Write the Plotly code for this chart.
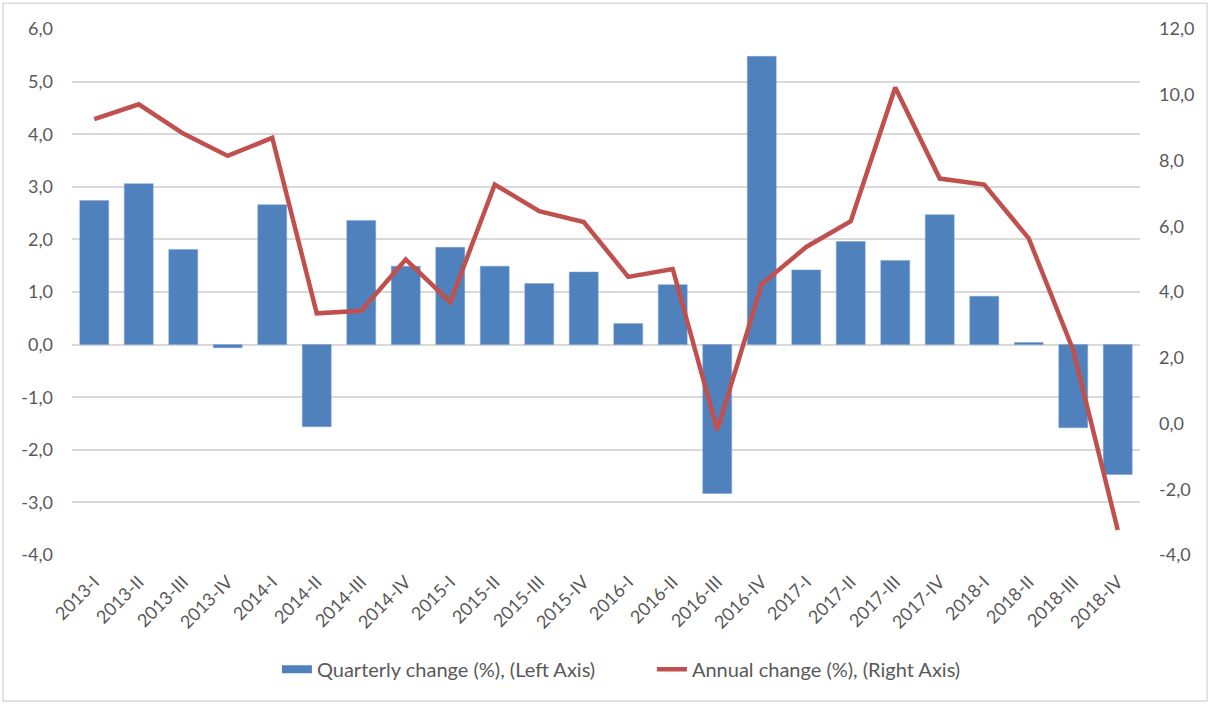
import plotly.graph_objects as go

categories = ["2013-I", "2013-II", "2013-III", "2013-IV",
              "2014-I", "2014-II", "2014-III", "2014-IV",
              "2015-I", "2015-II", "2015-III", "2015-IV",
              "2016-I", "2016-II", "2016-III", "2016-IV",
              "2017-I", "2017-II", "2017-III", "2017-IV",
              "2018-I", "2018-II", "2018-III", "2018-IV"]

quarterly_change = [2.74, 3.06, 1.81, -0.06,
                    2.66, -1.56, 2.36, 1.49,
                    1.85, 1.49, 1.16, 1.38,
                    0.40, 1.14, -2.83, 5.48,
                    1.42, 1.96, 1.60, 2.47,
                    0.92, 0.04, -1.58, -2.47]

annual_change = [9.26, 9.71, 8.82, 8.14,
                 8.69, 3.35, 3.43, 4.99,
                 3.69, 7.27, 6.46, 6.13,
                 4.46, 4.70, -0.20, 4.24,
                 5.37, 6.15, 10.22, 7.45,
                 7.27, 5.63, 2.23, -3.24]

left_ticks = [-4, -3, -2, -1, 0, 1, 2, 3, 4, 5, 6]
left_labels = ["-4,0", "-3,0", "-2,0", "-1,0", "0,0", "1,0", "2,0", "3,0", "4,0", "5,0", "6,0"]
right_ticks = [-4, -2, 0, 2, 4, 6, 8, 10, 12]
right_labels = ["-4,0", "-2,0", "0,0", "2,0", "4,0", "6,0", "8,0", "10,0", "12,0"]

bar_name = "Quarterly change (%), (Left Axis)"
line_name = "Annual change (%), (Right Axis)"

FONT = "Lato, 'Open Sans', sans-serif"
TXT = "#595959"
BLUE = "#4F81BD"
RED = "#C0504D"

fig = go.Figure()
fig.add_trace(go.Bar(
    x=categories, y=quarterly_change, name=bar_name, showlegend=False,
    marker=dict(color=BLUE, line=dict(color="#7BA0D4", width=0.5)),
    yaxis="y",
))
# legend swatch for the bars (wide rectangle like the original)
fig.add_trace(go.Scatter(
    x=[None], y=[None], name=bar_name, mode="lines",
    line=dict(color=BLUE, width=8), yaxis="y", showlegend=True,
))
fig.add_trace(go.Scatter(
    x=categories, y=annual_change, name=line_name, mode="lines",
    line=dict(color=RED, width=4.5), yaxis="y2",
))

fig.update_layout(
    width=1210, height=704,
    margin=dict(l=72, r=70, t=29, b=149),
    paper_bgcolor="white", plot_bgcolor="white",
    bargap=0.35,
    font=dict(family=FONT, size=18, color=TXT),
    showlegend=True,
    legend=dict(orientation="h", x=0.543, xanchor="center", y=-0.217, yanchor="middle",
                font=dict(family=FONT, size=20, color=TXT),
                itemwidth=30, tracegroupgap=0, entrywidth=330),
    xaxis=dict(type="category", range=[-0.5, 23.5], tickangle=-45,
               showgrid=False, showline=False, zeroline=False, ticks="",
               ticklabelstandoff=12,
               tickfont=dict(family=FONT, size=18, color=TXT)),
    yaxis=dict(range=[-4, 6], tickmode="array", tickvals=left_ticks, ticktext=left_labels,
               showgrid=True, gridcolor="#D9D9D9", gridwidth=1.5,
               zeroline=True, zerolinecolor="#D9D9D9", zerolinewidth=1.5,
               showline=False, ticks="", ticklabelstandoff=18,
               tickfont=dict(family=FONT, size=18, color=TXT)),
    yaxis2=dict(range=[-4, 12], tickmode="array", tickvals=right_ticks, ticktext=right_labels,
                overlaying="y", side="right",
                showgrid=False, zeroline=False, showline=False, ticks="",
                ticklabelstandoff=18,
                tickfont=dict(family=FONT, size=18, color=TXT)),
    shapes=[dict(type="rect", xref="paper", yref="paper",
                 x0=-0.0646, x1=1.0627, y0=-0.2774, y1=1.0488,
                 line=dict(color="#D9D9D9", width=1.5), layer="below")],
)

fig.write_html("out.html", config={"displayModeBar": False},
               post_script="document.body.style.margin='0';document.body.style.overflow='hidden';")
